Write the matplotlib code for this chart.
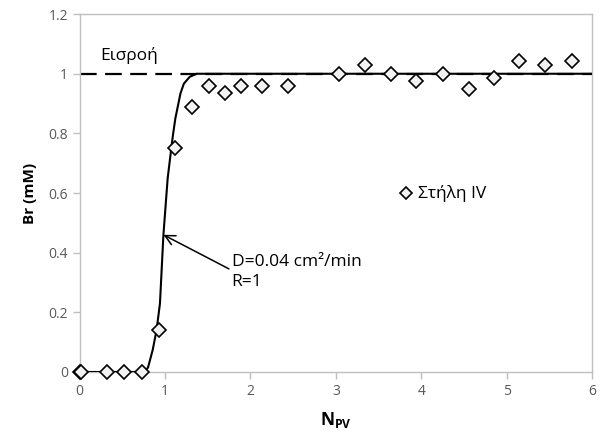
import matplotlib
matplotlib.use('Agg')
import matplotlib.pyplot as plt

plt.rcParams['font.family'] = ['Open Sans', 'DejaVu Sans']
plt.rcParams['mathtext.fontset'] = 'custom'
plt.rcParams['mathtext.rm'] = 'Open Sans'
plt.rcParams['mathtext.bf'] = 'Open Sans:bold'

# measured points (Στήλη IV)
npv = [0.0, 0.02, 0.32, 0.52, 0.73, 0.93, 1.12, 1.31, 1.51, 1.70, 1.89, 2.13, 2.44,
       3.04, 3.34, 3.64, 3.94, 4.25, 4.56, 4.85, 5.15, 5.45, 5.77]
br = [0.0, 0.0, 0.0, 0.0, 0.0, 0.14, 0.75, 0.89, 0.96, 0.935, 0.96, 0.96, 0.96,
      1.0, 1.03, 1.0, 0.975, 1.0, 0.948, 0.987, 1.042, 1.03, 1.042]

# model curve (D=0.04 cm2/min, R=1)
fit_x = [0.0, 0.76, 0.80, 0.855, 0.90, 0.94, 0.98, 1.03, 1.06, 1.09, 1.12, 1.18, 1.22, 1.29, 1.37, 2.0, 6.0]
fit_y = [0.0, 0.0, 0.015, 0.074, 0.14, 0.23, 0.458, 0.649, 0.72, 0.79, 0.85, 0.934, 0.967, 0.99, 1.0, 1.0, 1.0]

# inflow
inflow_x = [0.0, 6.0]
inflow_y = [1.0, 1.0]

fig = plt.figure(figsize=(6.02, 4.41), dpi=100)
ax = fig.add_axes([0.1324, 0.1565, 0.8510, 0.8115])

ax.plot(inflow_x, inflow_y, color='black', lw=1.6, dashes=(7.5, 3.8), zorder=2)
ax.plot(fit_x, fit_y, color='black', lw=1.5, zorder=3)
ax.plot(npv, br, linestyle='none', marker='D', markersize=7, markerfacecolor='#f2f2f2',
        markeredgecolor='black', markeredgewidth=1.2, zorder=4, clip_on=False)

ax.set_xlim(0, 6)
ax.set_ylim(0, 1.2)
ax.set_xticks([0, 1, 2, 3, 4, 5, 6])
ax.set_yticks([0, 0.2, 0.4, 0.6, 0.8, 1.0, 1.2])
ax.set_yticklabels(['0', '0.2', '0.4', '0.6', '0.8', '1', '1.2'])

for s in ax.spines.values():
    s.set_color('#bfbfbf')
    s.set_linewidth(1.0)
ax.tick_params(colors='#bfbfbf', labelcolor='#595959', labelsize=10, length=5, width=1)

ax.set_xlabel('$\\mathbf{N_{PV}}$', fontsize=12.5, labelpad=8)
ax.set_ylabel('Br (mM)', fontsize=11, fontweight='bold', labelpad=8)

ax.text(0.24, 1.062, 'Εισροή', fontsize=12.5, va='center', ha='left')

ax.annotate('D=0.04 cm²/min\nR=1', xy=(0.98, 0.46), xytext=(1.78, 0.335),
            fontsize=12.5, va='center', ha='left', linespacing=1.3,
            arrowprops=dict(arrowstyle='->', color='black', lw=1.1,
                            shrinkA=0, shrinkB=0, mutation_scale=18,
                            relpos=(0, 0.55)))

ax.plot([3.82], [0.6], linestyle='none', marker='D', markersize=6, markerfacecolor='#f2f2f2',
        markeredgecolor='black', markeredgewidth=1.2, clip_on=False)
ax.text(3.96, 0.6, 'Στήλη IV', fontsize=12.5, va='center', ha='left')

fig.savefig('out.png', dpi=100)
